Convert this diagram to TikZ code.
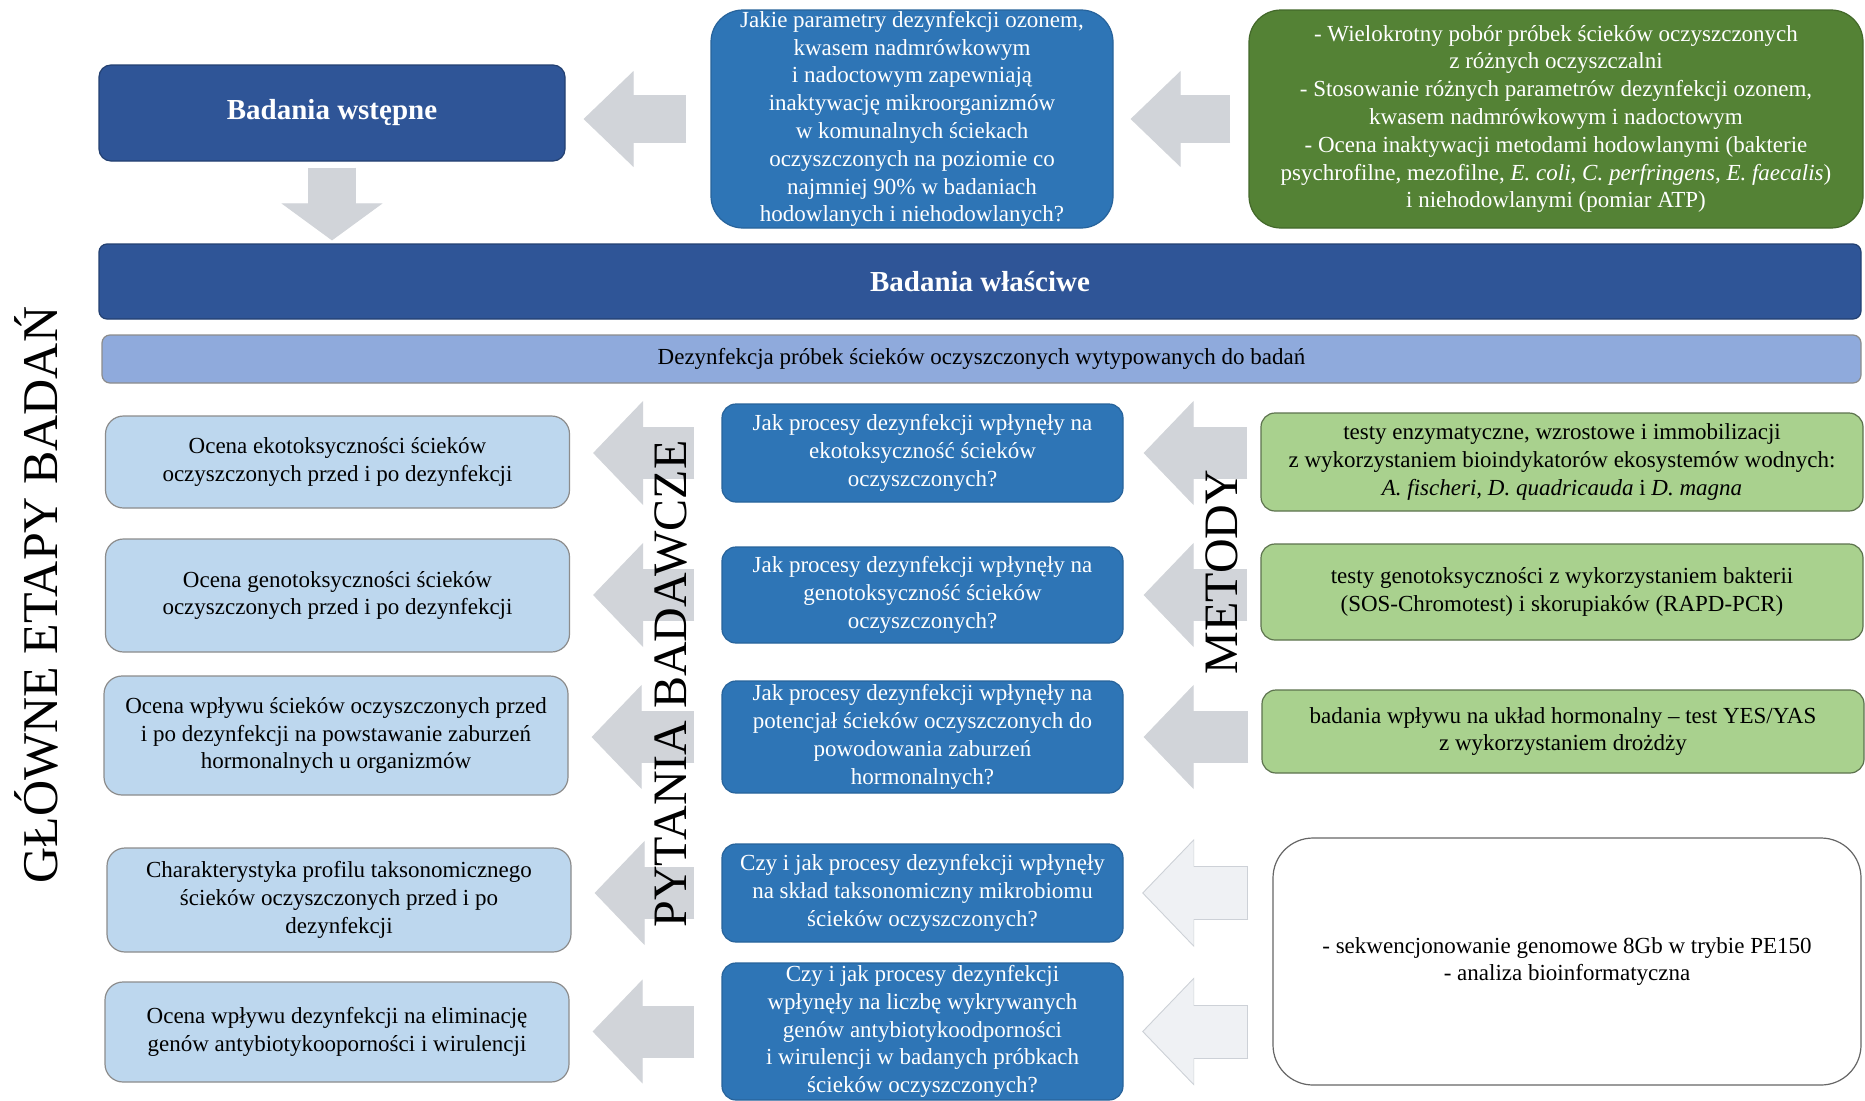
\documentclass[tikz,border=0pt]{standalone}
\usepackage{fontspec}
\setmainfont{Liberation Serif}
\usetikzlibrary{arrows.meta,calc}

\definecolor{headblue}{RGB}{47,85,151}
\definecolor{questblue}{RGB}{46,117,182}
\definecolor{darkgreen}{RGB}{84,130,53}
\definecolor{methgreen}{RGB}{169,209,142}
\definecolor{stageblue}{RGB}{189,215,238}
\definecolor{barblue}{RGB}{143,170,220}
\definecolor{arrowgray}{RGB}{209,212,217}
\definecolor{arrowpale}{RGB}{239,241,244}
\definecolor{arrowedge}{RGB}{205,209,215}

\begin{document}
\begin{tikzpicture}[x=1pt, y=-1pt,
    box/.style={rounded corners=14pt, align=center, inner sep=0pt, line width=1.2pt,
                font=\fontsize{23}{27.8}\selectfont},
    header/.style={box, rounded corners=12pt, fill=headblue, draw=headblue!75!black,
                   text=white, font=\bfseries\fontsize{29}{34}\selectfont},
    question/.style={box, fill=questblue, draw=questblue!85!black, text=white,
                     minimum width=401pt},
    stage/.style={box, rounded corners=18pt, fill=stageblue, draw=black!45,
                  minimum width=464pt},
    method/.style={box, fill=methgreen, draw=methgreen!55!black, minimum width=602pt},
    fatarrow/.style={draw=arrowgray, line width=52pt,
                     -{Triangle[length=50pt, width=104pt, line width=1pt]}},
    sidelabel/.style={rotate=90, font=\fontsize{48}{48}\selectfont}]

  \path[use as bounding box, fill=white] (0,0) rectangle (1865,1100);

  % badania wstepne
  \node[header, minimum width=466pt, minimum height=96pt] (pre) at (332,113) {Badania wstępne};
  \node[question, rounded corners=32pt, minimum width=402pt, minimum height=218pt] (q0) at (912,119)
    {Jakie parametry dezynfekcji ozonem,\\ kwasem nadmrówkowym\\ i nadoctowym zapewniają\\
     inaktywację mikroorganizmów\\ w komunalnych ściekach\\ oczyszczonych na poziomie co\\
     najmniej 90\% w badaniach\\ hodowlanych i niehodowlanych?};
  \node[box, rounded corners=32pt, fill=darkgreen, draw=darkgreen!80!black, text=white,
        minimum width=614pt, minimum height=218pt] (m0) at (1556,119)
    {- Wielokrotny pobór próbek ścieków oczyszczonych\\ z różnych oczyszczalni\\
     - Stosowanie różnych parametrów dezynfekcji ozonem,\\ kwasem nadmrówkowym i nadoctowym\\
     - Ocena inaktywacji metodami hodowlanymi (bakterie\\
     psychrofilne, mezofilne, \emph{E. coli}, \emph{C. perfringens}, \emph{E. faecalis})\\
     i niehodowlanymi (pomiar ATP)};

  % badania wlasciwe
  \node[header, rounded corners=8pt, minimum width=1762pt, minimum height=75pt] (main) at (980,281.5)
    {Badania właściwe};
  \node[box, rounded corners=8pt, fill=barblue, draw=black!45, minimum width=1759pt,
        minimum height=48pt] (dez) at (981.5,359)
    {Dezynfekcja próbek ścieków oczyszczonych wytypowanych do badań};

  \node[stage, minimum height=92pt] (s1) at (337.5,462)
    {Ocena ekotoksyczności ścieków\\ oczyszczonych przed i po dezynfekcji};
  \node[stage, minimum height=113pt] (s2) at (337.5,595.5)
    {Ocena genotoksyczności ścieków\\ oczyszczonych przed i po dezynfekcji};
  \node[stage, minimum height=119pt] (s3) at (336,735.5)
    {Ocena wpływu ścieków oczyszczonych przed\\ i po dezynfekcji na powstawanie zaburzeń\\
     hormonalnych u organizmów};
  \node[stage, minimum height=104pt] (s4) at (339,900)
    {Charakterystyka profilu taksonomicznego\\ ścieków oczyszczonych przed i po\\ dezynfekcji};
  \node[stage, minimum height=100pt] (s5) at (337,1032)
    {Ocena wpływu dezynfekcji na eliminację\\ genów antybiotykooporności i wirulencji};

  \node[question, minimum height=98pt] (q1) at (922.5,453)
    {Jak procesy dezynfekcji wpłynęły na\\ ekotoksyczność ścieków\\ oczyszczonych?};
  \node[question, minimum height=96pt] (q2) at (922.5,595)
    {Jak procesy dezynfekcji wpłynęły na\\ genotoksyczność ścieków\\ oczyszczonych?};
  \node[question, minimum height=112pt] (q3) at (922.5,737)
    {Jak procesy dezynfekcji wpłynęły na\\ potencjał ścieków oczyszczonych do\\
     powodowania zaburzeń\\ hormonalnych?};
  \node[question, minimum height=98pt] (q4) at (922.5,893)
    {Czy i jak procesy dezynfekcji wpłynęły\\ na skład taksonomiczny mikrobiomu\\
     ścieków oczyszczonych?};
  \node[question, minimum height=137pt] (q5) at (922.5,1031.5)
    {Czy i jak procesy dezynfekcji\\ wpłynęły na liczbę wykrywanych\\
     genów antybiotykoodporności\\ i wirulencji w badanych próbkach\\ ścieków oczyszczonych?};

  \node[method, minimum height=98pt] (m1) at (1562,462)
    {testy enzymatyczne, wzrostowe i immobilizacji\\
     z wykorzystaniem bioindykatorów ekosystemów wodnych:\\
     \emph{A. fischeri, D. quadricauda} i \emph{D. magna}};
  \node[method, minimum height=96pt] (m2) at (1562,592)
    {testy genotoksyczności z wykorzystaniem bakterii\\ (SOS-Chromotest) i skorupiaków (RAPD-PCR)};
  \node[method, minimum height=83pt] (m3) at (1563,731.5)
    {badania wpływu na układ hormonalny – test YES/YAS\\ z wykorzystaniem drożdży};
  \node[box, rounded corners=40pt, fill=white, draw=black!60, minimum width=588pt,
        minimum height=247pt] (m4) at (1567,961.5)
    {- sekwencjonowanie genomowe 8Gb w trybie PE150\\ - analiza bioinformatyczna};

  % strzalki
  \draw[fatarrow, line width=48pt, -{Triangle[length=50pt, width=96pt, line width=1pt]},
        shorten <=24pt, shorten >=18pt] (q0.west) -- (q0.west -| pre.east);
  \draw[fatarrow, line width=48pt, -{Triangle[length=50pt, width=96pt, line width=1pt]},
        shorten <=18pt, shorten >=17pt] (m0.west) -- (q0.east);
  \draw[fatarrow, line width=48pt, -{Triangle[length=37pt, width=101pt, line width=1pt]},
        shorten <=6pt, shorten >=3pt] (pre.south) -- (pre.south |- main.north);
  \foreach \i in {1,...,5}
    \draw[fatarrow, shorten <=27pt, shorten >=23pt] (q\i.west) -- (q\i.west -| s\i.east);
  \foreach \i in {1,2,3}
    \draw[fatarrow, shorten <=13pt, shorten >=20pt] (q\i.east -| m\i.west) -- (q\i.east);
  \foreach \i in {4,5} {
    \draw[fatarrow, draw=arrowedge, line width=54pt,
          -{Triangle[length=52pt, width=108pt, line width=1pt]},
          shorten <=24pt, shorten >=18.5pt] (q\i.east -| m4.west) -- (q\i.east);
    \draw[fatarrow, draw=arrowpale, shorten <=25pt, shorten >=20pt] (q\i.east -| m4.west) -- (q\i.east);
  }

  \node[sidelabel, font=\fontsize{50}{50}\selectfont] (etapy) at (36,595) {GŁÓWNE ETAPY BADAŃ};
  \node[sidelabel] (pytania) at (671,684) {PYTANIA BADAWCZE};
  \node[sidelabel] (metody) at (1222,572) {METODY};
\end{tikzpicture}
\end{document}
